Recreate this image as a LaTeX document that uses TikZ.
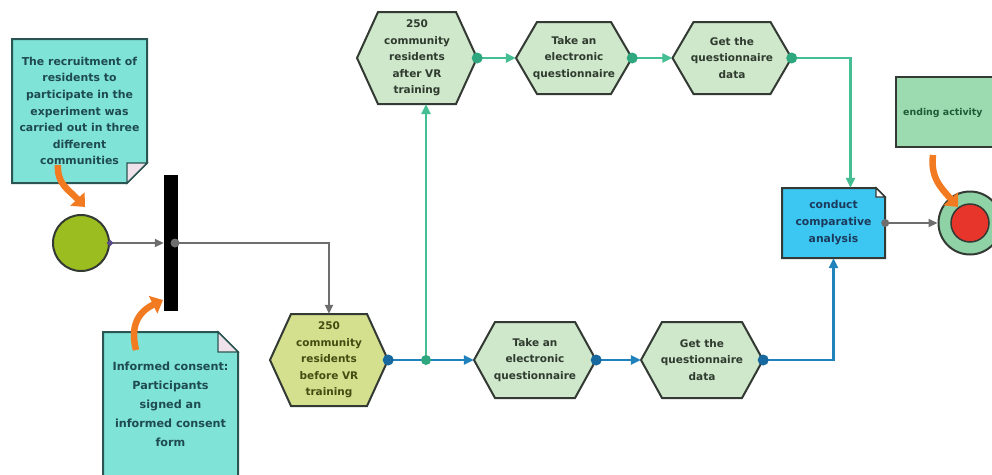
\documentclass[tikz,border=0pt]{standalone}
\usepackage{fontspec}
\setmainfont{DejaVu Sans}
\usetikzlibrary{arrows.meta,shapes.geometric,calc}

\definecolor{notefill}{HTML}{7FE3D8}
\definecolor{noteline}{HTML}{2B5552}
\definecolor{notetext}{HTML}{1E4A52}
\definecolor{flapfill}{HTML}{F0E2EA}
\definecolor{hexfill}{HTML}{CFE7CA}
\definecolor{hexline}{HTML}{333A33}
\definecolor{hextext}{HTML}{2E3B2E}
\definecolor{yellowhex}{HTML}{D4E08E}
\definecolor{yellowtext}{HTML}{454C12}
\definecolor{olivefill}{HTML}{9CBD1F}
\definecolor{anfill}{HTML}{3CC6F2}
\definecolor{antext}{HTML}{1B3A5C}
\definecolor{endfill}{HTML}{9CDBB0}
\definecolor{endtext}{HTML}{1E5C38}
\definecolor{ringfill}{HTML}{8ED2A6}
\definecolor{redfill}{HTML}{E8352C}
\definecolor{bluec}{HTML}{1F82BA}
\definecolor{bluedot}{HTML}{17689F}
\definecolor{greenc}{HTML}{45BE93}
\definecolor{greendot}{HTML}{2FA77E}
\definecolor{grayc}{HTML}{6E6E6E}
\definecolor{orangec}{HTML}{F27B21}
\definecolor{diamondc}{HTML}{5A4A8A}

\newcommand\basefont{\fontsize{10.5}{16.6}\selectfont\bfseries}
\newcommand\notefont{\fontsize{10.9}{16.6}\selectfont\bfseries}
\newcommand\bigfont{\fontsize{11.2}{19}\selectfont\bfseries}

\newcommand\hexagonnode[8]{%
  \draw[hexborder, fill=#6] ({#2-#4/2},#3) -- ({#2-#4/2+21},{#3-#5/2}) -- ({#2+#4/2-21},{#3-#5/2}) -- ({#2+#4/2},#3) -- ({#2+#4/2-21},{#3+#5/2}) -- ({#2-#4/2+21},{#3+#5/2}) -- cycle;
  \node[hexlabel, text=#7, minimum width=#4pt, minimum height=#5pt] (#1) at (#2,#3) {#8};}

\tikzset{
  hexborder/.style={draw=hexline, line width=2pt, line join=miter},
  hexlabel/.style={rectangle, inner sep=0pt, align=center, font=\basefont},
  noteborder/.style={draw=noteline, line width=2pt, line join=miter},
  notelabel/.style={inner sep=0pt, align=center, font=\notefont, text=notetext},
  graylink/.style={draw=grayc, line width=1.8pt, -{Triangle[length=9pt,width=8pt]}},
  bluelink/.style={draw=bluec, line width=2.6pt, -{Triangle[length=10pt,width=9pt]}},
  greenlink/.style={draw=greenc, line width=2.6pt, -{Triangle[length=10pt,width=9pt]}},
  orangearrow/.style={draw=orangec, line width=6.5pt, -{Triangle[length=11pt,width=19pt]}},
}

\begin{document}
\begin{tikzpicture}[x=1pt,y=-1pt]
\useasboundingbox (0,0) rectangle (992,474);
\clip (0,0) rectangle (992,474);
\fill[white] (0,0) rectangle (992,474);

% note 1
\draw[noteborder, fill=notefill] (12,39) -- (147,39) -- (147,163) -- (127,183) -- (12,183) -- cycle;
\draw[draw=noteline, line width=1.4pt, fill=flapfill] (127,163) -- (147,163) -- (127,183) -- cycle;
\node[notelabel, minimum width=135pt, minimum height=144pt] (note1) at (79.5,111)
  {The recruitment of\\residents to\\participate in the\\experiment was\\carried out in three\\different\\communities};

% note 2
\draw[noteborder, fill=notefill] (103,332) -- (218,332) -- (238,352) -- (238,490) -- (103,490) -- cycle;
\draw[draw=noteline, line width=1.4pt, fill=flapfill] (218,332) -- (218,352) -- (238,352) -- cycle;
\node[notelabel, font=\bigfont] (note2) at (170.5,404)
  {Informed consent:\\Participants\\signed an\\informed consent\\form};

% start circle and bar
\node[circle, minimum size=56pt, inner sep=0pt, fill=olivefill, draw=hexline, line width=2pt] (startc) at (81,243) {};
\node[rectangle, fill=black, minimum width=14pt, minimum height=136pt, inner sep=0pt] (bar) at (171,243) {};

% hexagons
\hexagonnode{bh1}{329}{360}{118}{92}{yellowhex}{yellowtext}{250\\community\\residents\\before VR\\training}
\hexagonnode{bh2}{535}{360}{122}{76}{hexfill}{hextext}{Take an\\electronic\\questionnaire}
\hexagonnode{bh3}{702}{360}{122}{76}{hexfill}{hextext}{Get the\\questionnaire\\data}
\hexagonnode{th1}{417}{58}{120}{92}{hexfill}{hextext}{250\\community\\residents\\after VR\\training}
\hexagonnode{th2}{574}{58}{116}{72}{hexfill}{hextext}{Take an\\electronic\\questionnaire}
\hexagonnode{th3}{732}{58}{119}{72}{hexfill}{hextext}{Get the\\questionnaire\\data}

% analysis box
\draw[hexborder, fill=anfill] (782,188) -- (876,188) -- (885,197) -- (885,258) -- (782,258) -- cycle;
\draw[draw=hexline, line width=1.2pt, fill=white] (876,188) -- (876,197) -- (885,197) -- cycle;
\node[hexlabel, text=antext, font=\fontsize{10.8}{17}\selectfont\bfseries, minimum width=103pt, minimum height=70pt] (an) at (833.5,223) {conduct\\comparative\\analysis};

% ending activity box
\node[rectangle, draw=hexline, line width=2pt, fill=endfill, minimum width=114pt, minimum height=70pt, inner sep=0pt] (endbox) at (953,112) {};
\node[anchor=west, inner sep=0pt, font=\fontsize{9.4}{12}\selectfont\bfseries, text=endtext] (endlabel) at (903,113) {ending activity};

% end circle
\node[circle, minimum size=63pt, inner sep=0pt, fill=ringfill, draw=hexline, line width=2pt] (endc) at (970,223) {};
\node[circle, minimum size=38pt, inner sep=0pt, fill=redfill, draw=hexline, line width=1.5pt] (endin) at (endc) {};

% gray connectors
\draw[graylink] (startc.east) -- (bar.west);
\node[diamond, fill=diamondc, minimum size=7pt, inner sep=0pt] (dstart) at (startc.east) {};
\coordinate (bardot) at ([xshift=4pt]bar.center);
\draw[graylink] (bardot) -| (bh1.north);
\fill[grayc] (bardot) circle (4.5);

% blue connectors
\coordinate (jn) at (426,360);
\draw[bluelink] (bh1.east) -- (bh2.west);
\draw[bluelink] (bh2.east) -- (bh3.west);
\draw[bluelink] (bh3.east) -| (an.south);
\fill[bluedot] (bh1.east) circle (5.5);
\fill[bluedot] (bh2.east) circle (5.5);
\fill[bluedot] (bh3.east) circle (5.5);

% green connectors
\draw[greenlink] (jn) -- (jn |- th1.south);
\fill[greendot] (jn) circle (5);
\draw[greenlink] (th1.east) -- (th2.west);
\draw[greenlink] (th2.east) -- (th3.west);
\draw[greenlink] (th3.east) -| ([xshift=17pt]an.north);
\fill[greendot] (th1.east) circle (5.5);
\fill[greendot] (th2.east) circle (5.5);
\fill[greendot] (th3.east) circle (5.5);

% analysis to end
\draw[graylink] (an.east) -- (endc.west);
\fill[grayc] (an.east) circle (4);

% orange pointers
\coordinate (o1a) at (58,165);
\coordinate (o1b) at (85,207);
\draw[orangearrow] (o1a) .. controls (57,184) and (68,189) .. (o1b);
\coordinate (o2a) at (136,350);
\coordinate (o2b) at (163,300);
\draw[orangearrow] (o2a) .. controls (130,326) and (138,312) .. (o2b);
\coordinate (o3a) at (933,155);
\coordinate (o3b) at (958,207);
\draw[orangearrow] (o3a) .. controls (930,178) and (942,189) .. (o3b);
\end{tikzpicture}
\end{document}
